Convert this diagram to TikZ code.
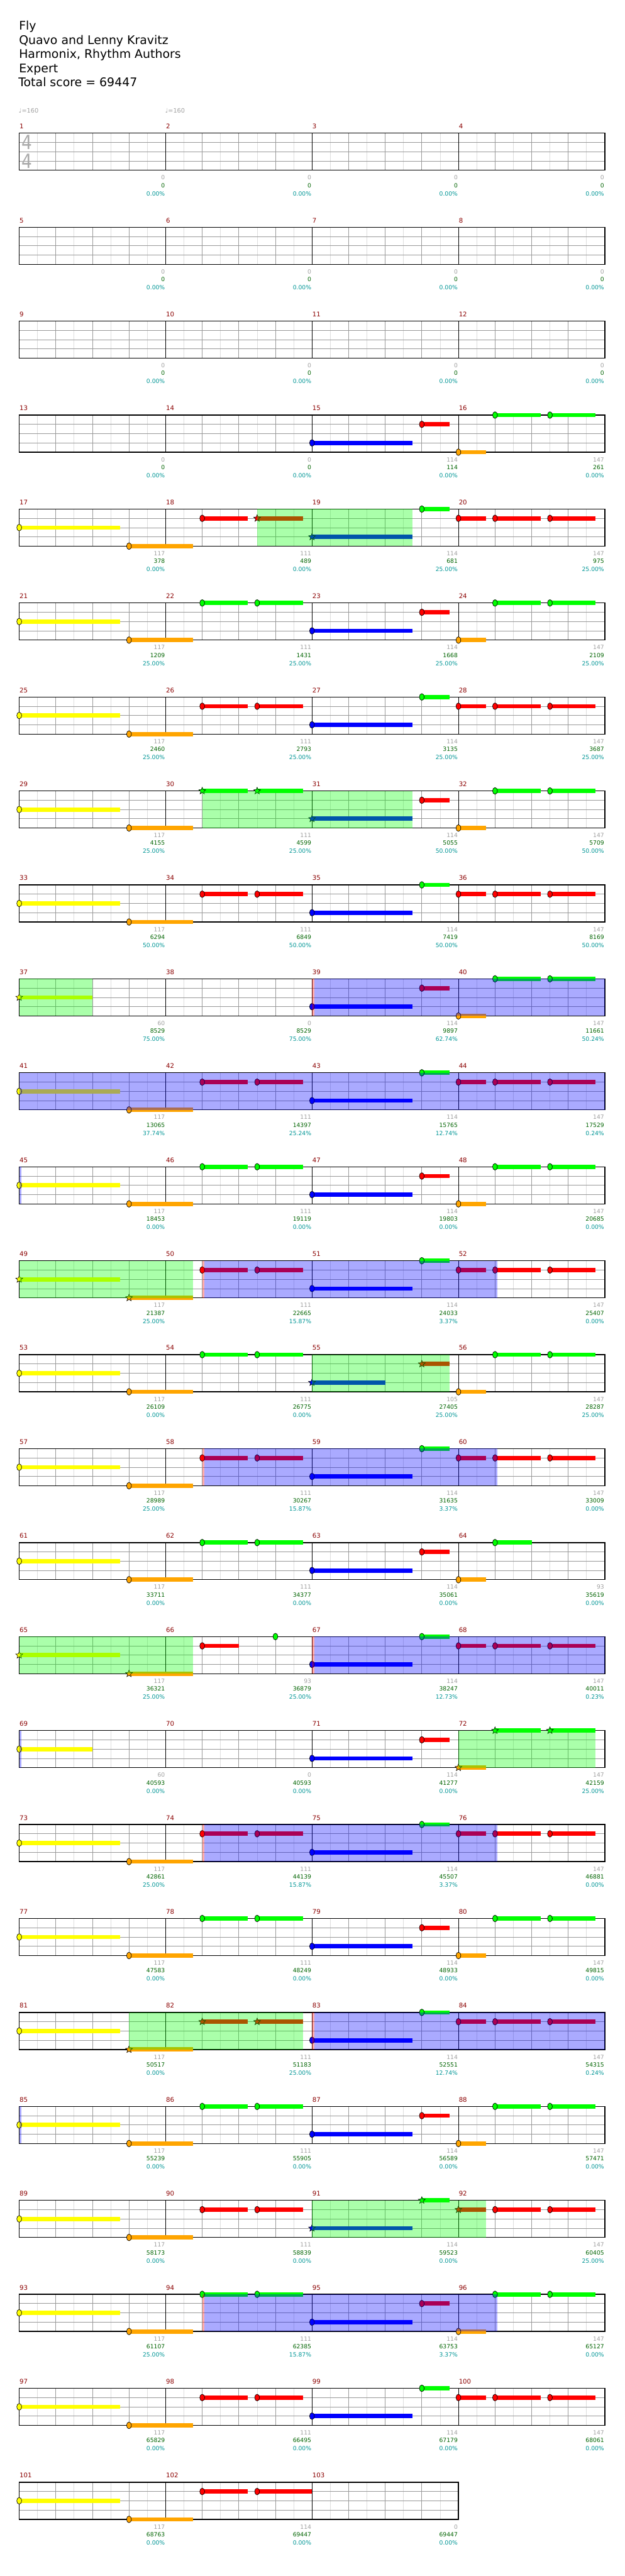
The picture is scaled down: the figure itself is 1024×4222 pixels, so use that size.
\documentclass[tikz,border=0pt]{standalone}
\usepackage{fontspec}
\setmainfont{DejaVu Sans}
\usetikzlibrary{shapes.geometric}
\definecolor{cG}{RGB}{0,255,0}
\definecolor{cR}{RGB}{255,0,0}
\definecolor{cY}{RGB}{255,255,0}
\definecolor{cB}{RGB}{0,0,255}
\definecolor{cO}{RGB}{255,165,0}
\definecolor{mnum}{RGB}{139,0,0}
\definecolor{gnum}{RGB}{160,160,160}
\definecolor{snum}{RGB}{0,100,0}
\definecolor{pnum}{RGB}{0,150,150}
\definecolor{lightl}{RGB}{221,221,221}
\definecolor{midl}{RGB}{153,153,153}
\definecolor{tsg}{RGB}{170,170,170}
\tikzset{
 mn/.style={anchor=base west,inner sep=0pt,text=mnum,font=\fontsize{10.5}{10.5}\selectfont},
 gn/.style={anchor=base east,inner sep=0pt,text=gnum,font=\fontsize{9.5}{9.5}\selectfont},
 sn/.style={gn,text=snum},
 pn/.style={gn,text=pnum},
 starnote/.style={star,star points=5,star point ratio=2.3,minimum size=12pt,inner sep=0pt,draw=black,line width=0.6pt},
 ttl/.style={anchor=base west,inner sep=0pt,font=\fontsize{19.5}{19.5}\selectfont},
 tempo/.style={anchor=base west,inner sep=0pt,text=gnum,font=\fontsize{10}{10}\selectfont},
 tsig/.style={inner sep=0pt,text=tsg,font=\fontsize{32}{32}\selectfont,xscale=0.85},
}
\newcommand\staff[1]{%
 \pgfmathtruncatemacro\stfA{8*#1-1}%
 \foreach \k in {1,3,...,\stfA}{\draw[lightl,line width=0.8pt] ({30*\k},0) -- ({30*\k},60.8);}
 \pgfmathtruncatemacro\stfB{4*#1-1}%
 \foreach \k in {1,...,\stfB}{\draw[midl,line width=0.8pt] ({60*\k},0) -- ({60*\k},60.8);}
 \foreach \yy in {15.2,30.4,45.6}{\draw[midl,line width=0.8pt] (0,\yy) -- ({240*#1},\yy);}
 \pgfmathtruncatemacro\stfC{#1-1}%
 \foreach \k in {1,...,\stfC}{\draw[black,line width=0.8pt] ({240*\k},0) -- ({240*\k},60.8);}
 \draw[black,line width=1.3pt] (0,0) rectangle ({240*#1},60.8);
}
\newcommand\ntX[4]{\fill[#4] (#1,{#2-3.5}) rectangle ({#1+#3},{#2+3.5});
 \filldraw[fill=#4,draw=black,line width=0.7pt] (#1,#2) ellipse (4 and 5.5);}
\newcommand\stX[4]{\fill[#4] (#1,{#2-3.5}) rectangle ({#1+#3},{#2+3.5});
 \node[starnote,fill=#4] at (#1,#2) {};}
\newcommand\ntG[2]{\ntX{#1}{0}{#2}{cG}}
\newcommand\ntR[2]{\ntX{#1}{15.2}{#2}{cR}}
\newcommand\ntY[2]{\ntX{#1}{30.4}{#2}{cY}}
\newcommand\ntB[2]{\ntX{#1}{45.6}{#2}{cB}}
\newcommand\ntO[2]{\ntX{#1}{60.8}{#2}{cO}}
\newcommand\stG[2]{\stX{#1}{0}{#2}{cG}}
\newcommand\stR[2]{\stX{#1}{15.2}{#2}{cR}}
\newcommand\stY[2]{\stX{#1}{30.4}{#2}{cY}}
\newcommand\stB[2]{\stX{#1}{45.6}{#2}{cB}}
\newcommand\stO[2]{\stX{#1}{60.8}{#2}{cO}}
\newcommand\hYO{\ntY{0}{165}\ntO{180}{105}}
\newcommand\hRR{\ntR{300}{75}\ntR{390}{75}}
\newcommand\hGG{\ntG{300}{75}\ntG{390}{75}}
\newcommand\hBG{\ntB{480}{165}\ntG{660}{45}}
\newcommand\hBR{\ntB{480}{165}\ntR{660}{45}}
\newcommand\hRRR{\ntR{720}{45}\ntR{780}{75}\ntR{870}{75}}
\newcommand\hOGG{\ntO{720}{45}\ntG{780}{75}\ntG{870}{75}}
\newcommand\rowP{\hYO\hRR\hBG\hRRR}
\newcommand\rowQ{\hYO\hGG\hBR\hOGG}
\newcommand\gz[2]{\fill[cG,fill opacity=0.333] (#1,0) rectangle (#2,60.8);}
\newcommand\bzc[2]{\fill[cB,fill opacity=0.333] (#1,0) rectangle (#2,60.8);}
\newcommand\bz[2]{\fill[cR,fill opacity=0.333] (#1,0) rectangle ({#1+4},60.8);
 \fill[cB,fill opacity=0.333] ({#1+4},0) rectangle (#2,60.8);}
\newcommand\myrow[4]{%
\begin{scope}[shift={(31.5,{218.3+154*#1})}]
 \staff{#2}
 #4
 \foreach \k in {1,...,#2}{\pgfmathtruncatemacro\mmn{4*#1+\k}\node[mn] at ({240*(\k-1)+0.5},-7.3){\mmn};}
 \foreach \g/\s/\p [count=\k] in {#3}{\node[gn] at ({240*\k-1},76.4){\g};
   \node[sn] at ({240*\k-1},89){\s}; \node[pn] at ({240*\k-1},102.4){\p};}
\end{scope}}
\begin{document}
\begin{tikzpicture}[x=1pt,y=-1pt]
\useasboundingbox (0,0) rectangle (1024,4222);
\fill[white] (0,0) rectangle (1024,4222);
\node[ttl] at (31,49) {Fly};
\node[ttl] at (31,72.2) {Quavo and Lenny Kravitz};
\node[ttl] at (31,95.4) {Harmonix, Rhythm Authors};
\node[ttl] at (31,118.6) {Expert};
\node[ttl] at (30,141.8) {Total score = 69447};
\myrow{0}{4}{0/0/0.00\%,0/0/0.00\%,0/0/0.00\%,0/0/0.00\%}{%
 \node[tsig] at (12.7,15) {4}; \node[tsig] at (12.7,45.6) {4};
 \node[tempo] at (-0.8,-33) {♩=160}; \node[tempo] at (239.2,-33) {♩=160};}
\myrow{1}{4}{0/0/0.00\%,0/0/0.00\%,0/0/0.00\%,0/0/0.00\%}{}
\myrow{2}{4}{0/0/0.00\%,0/0/0.00\%,0/0/0.00\%,0/0/0.00\%}{}
\myrow{3}{4}{0/0/0.00\%,0/0/0.00\%,114/114/0.00\%,147/261/0.00\%}{\hBR\hOGG}
\myrow{4}{4}{117/378/0.00\%,111/489/0.00\%,114/681/25.00\%,147/975/25.00\%}{%
 \hYO\ntR{300}{75}\stR{390}{75}\stB{480}{165}\ntG{660}{45}\hRRR\gz{390}{645}}
\myrow{5}{4}{117/1209/25.00\%,111/1431/25.00\%,114/1668/25.00\%,147/2109/25.00\%}{\rowQ}
\myrow{6}{4}{117/2460/25.00\%,111/2793/25.00\%,114/3135/25.00\%,147/3687/25.00\%}{\rowP}
\myrow{7}{4}{117/4155/25.00\%,111/4599/25.00\%,114/5055/50.00\%,147/5709/50.00\%}{%
 \hYO\stG{300}{75}\stG{390}{75}\stB{480}{165}\ntR{660}{45}\hOGG\gz{300}{645}}
\myrow{8}{4}{117/6294/50.00\%,111/6849/50.00\%,114/7419/50.00\%,147/8169/50.00\%}{\rowP}
\myrow{9}{4}{60/8529/75.00\%,0/8529/75.00\%,114/9897/62.74\%,147/11661/50.24\%}{%
 \stY{0}{120}\hBR\hOGG\gz{0}{120}\bz{480}{960}}
\myrow{10}{4}{117/13065/37.74\%,111/14397/25.24\%,114/15765/12.74\%,147/17529/0.24\%}{\rowP\bzc{0}{960}}
\myrow{11}{4}{117/18453/0.00\%,111/19119/0.00\%,114/19803/0.00\%,147/20685/0.00\%}{\rowQ\bzc{0}{4}}
\myrow{12}{4}{117/21387/25.00\%,111/22665/15.87\%,114/24033/3.37\%,147/25407/0.00\%}{%
 \stY{0}{165}\stO{180}{105}\hRR\hBG\hRRR\gz{0}{285}\bz{300}{784}}
\myrow{13}{4}{117/26109/0.00\%,111/26775/0.00\%,105/27405/25.00\%,147/28287/25.00\%}{%
 \hYO\hGG\stB{480}{120}\stR{660}{45}\hOGG\gz{480}{705}}
\myrow{14}{4}{117/28989/25.00\%,111/30267/15.87\%,114/31635/3.37\%,147/33009/0.00\%}{\rowP\bz{300}{784}}
\myrow{15}{4}{117/33711/0.00\%,111/34377/0.00\%,114/35061/0.00\%,93/35619/0.00\%}{%
 \hYO\hGG\hBR\ntO{720}{45}\ntG{780}{60}}
\myrow{16}{4}{117/36321/25.00\%,93/36879/25.00\%,114/38247/12.73\%,147/40011/0.23\%}{%
 \stY{0}{165}\stO{180}{105}\ntR{300}{60}\ntG{420}{0}\hBG\hRRR\gz{0}{285}\bz{480}{960}}
\myrow{17}{4}{60/40593/0.00\%,0/40593/0.00\%,114/41277/0.00\%,147/42159/25.00\%}{%
 \ntY{0}{120}\hBR\stO{720}{45}\stG{780}{75}\stG{870}{75}\bzc{0}{4}\gz{720}{945}}
\myrow{18}{4}{117/42861/25.00\%,111/44139/15.87\%,114/45507/3.37\%,147/46881/0.00\%}{\rowP\bz{300}{784}}
\myrow{19}{4}{117/47583/0.00\%,111/48249/0.00\%,114/48933/0.00\%,147/49815/0.00\%}{\rowQ}
\myrow{20}{4}{117/50517/0.00\%,111/51183/25.00\%,114/52551/12.74\%,147/54315/0.24\%}{%
 \ntY{0}{165}\stO{180}{105}\stR{300}{75}\stR{390}{75}\hBG\hRRR\gz{180}{465}\bz{480}{960}}
\myrow{21}{4}{117/55239/0.00\%,111/55905/0.00\%,114/56589/0.00\%,147/57471/0.00\%}{\rowQ\bzc{0}{4}}
\myrow{22}{4}{117/58173/0.00\%,111/58839/0.00\%,114/59523/0.00\%,147/60405/25.00\%}{%
 \hYO\hRR\stB{480}{165}\stG{660}{45}\stR{720}{45}\ntR{780}{75}\ntR{870}{75}\gz{480}{765}}
\myrow{23}{4}{117/61107/25.00\%,111/62385/15.87\%,114/63753/3.37\%,147/65127/0.00\%}{\rowQ\bz{300}{784}}
\myrow{24}{4}{117/65829/0.00\%,111/66495/0.00\%,114/67179/0.00\%,147/68061/0.00\%}{\rowP}
\myrow{25}{3}{117/68763/0.00\%,114/69447/0.00\%,0/69447/0.00\%}{%
 \hYO\ntR{300}{75}\ntR{390}{90}}
\end{tikzpicture}
\end{document}
